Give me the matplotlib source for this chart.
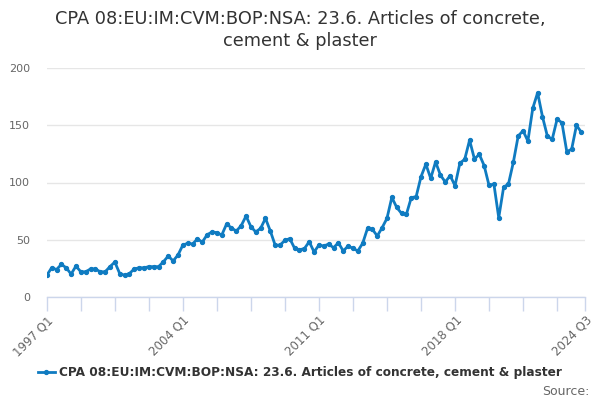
import numpy as np
import matplotlib
matplotlib.use("Agg")
import matplotlib.pyplot as plt
from matplotlib.lines import Line2D

# quarterly values, 1997 Q1 .. 2024 Q3
first_year = 1997
values = [19, 25.5, 24, 28.5, 25.5, 20, 27, 22, 22, 24.5, 24.5, 22,
          22, 26.5, 30.5, 20.5, 19, 20.5, 24.5, 25.5, 25.5, 26.5, 26.5, 26.5,
          30.8, 35.8, 31.5, 36.7, 45.4, 46.9, 46.3, 50.7, 48, 54.4, 56.8, 56.2,
          54.1, 63.8, 60.3, 57.6, 62.3, 70.7, 61.4, 56.8, 60, 68.7, 57.6, 45.2,
          45.3, 49.5, 51, 42.5, 41.3, 42.2, 48.3, 39.3, 45.4, 44.5, 46.3, 43,
          47.4, 40.2, 44.5, 42.5, 40.2, 46.9, 60, 59.1, 53.3, 60.5, 68.7, 87,
          78.3, 73, 72.3, 86.8, 87.6, 105, 116, 103.6, 118, 106.5, 100.4, 106,
          97.2, 116.8, 120.3, 137, 120.5, 124.6, 114.7, 97.5, 98.7, 69.3, 95.8, 98.7,
          117.6, 140.6, 145.2, 136.2, 164.8, 178.4, 157.5, 140.6, 137.7, 155.2, 152.3, 127,
          129, 150, 143.8]
quarters = ["%d Q%d" % (first_year + i // 4, i % 4 + 1) for i in range(len(values))]
title = "CPA 08:EU:IM:CVM:BOP:NSA: 23.6. Articles of concrete,\ncement & plaster"
series_name = "CPA 08:EU:IM:CVM:BOP:NSA: 23.6. Articles of concrete, cement & plaster"
y_ticks = [0, 50, 100, 150, 200]

line_color = "#0f7bc1"
axis_color = "#ccd6eb"

fig = plt.figure(figsize=(6, 4), dpi=100)
ax = fig.add_axes([0.078, 0.2575, 0.897, 0.5725])

x = np.arange(len(values))
ax.plot(x, values, color=line_color, linewidth=2, marker="o", markersize=2.8)

x_end = len(values) - 1 + 0.75
ax.set_xlim(0, x_end)
ax.set_ylim(0, 200)

major = list(range(0, len(values) - 1, 7)) + [x_end]
ax.set_xticks(major)
labels = []
for t in major[:-1]:
    labels.append(quarters[t] if t % 28 == 0 else "")
labels.append(quarters[-1])
ax.set_xticklabels(labels, rotation=45, ha="right", rotation_mode="anchor",
                   fontsize=8.5, color="#666666")
ax.tick_params(axis="x", length=10, width=1, color=axis_color, pad=2)

ax.set_yticks(y_ticks)
ax.set_yticklabels([str(v) for v in y_ticks], fontsize=8, color="#666666")
ax.tick_params(axis="y", length=0, pad=12)
ax.grid(axis="y", color="#e6e6e6", linewidth=1)
ax.set_axisbelow(True)

for s in ["top", "right", "left"]:
    ax.spines[s].set_visible(False)
ax.spines["bottom"].set_color(axis_color)
ax.spines["bottom"].set_linewidth(1)

fig.text(0.5, 0.975, title, ha="center", va="top", fontsize=12.8,
         color="#333333", linespacing=1.25)

handle = Line2D([], [], color=line_color, linewidth=2, marker="o", markersize=2.8)
fig.legend([handle], [series_name], loc="center", bbox_to_anchor=(0.5, 0.068),
           frameon=False, handlelength=1.4, handletextpad=0.4,
           prop={"size": 8.7, "weight": "bold"}, labelcolor="#333333")

fig.text(0.982, 0.005, "Source:", ha="right", va="bottom", fontsize=9, color="#666666")

fig.savefig("out.png", dpi=100)
